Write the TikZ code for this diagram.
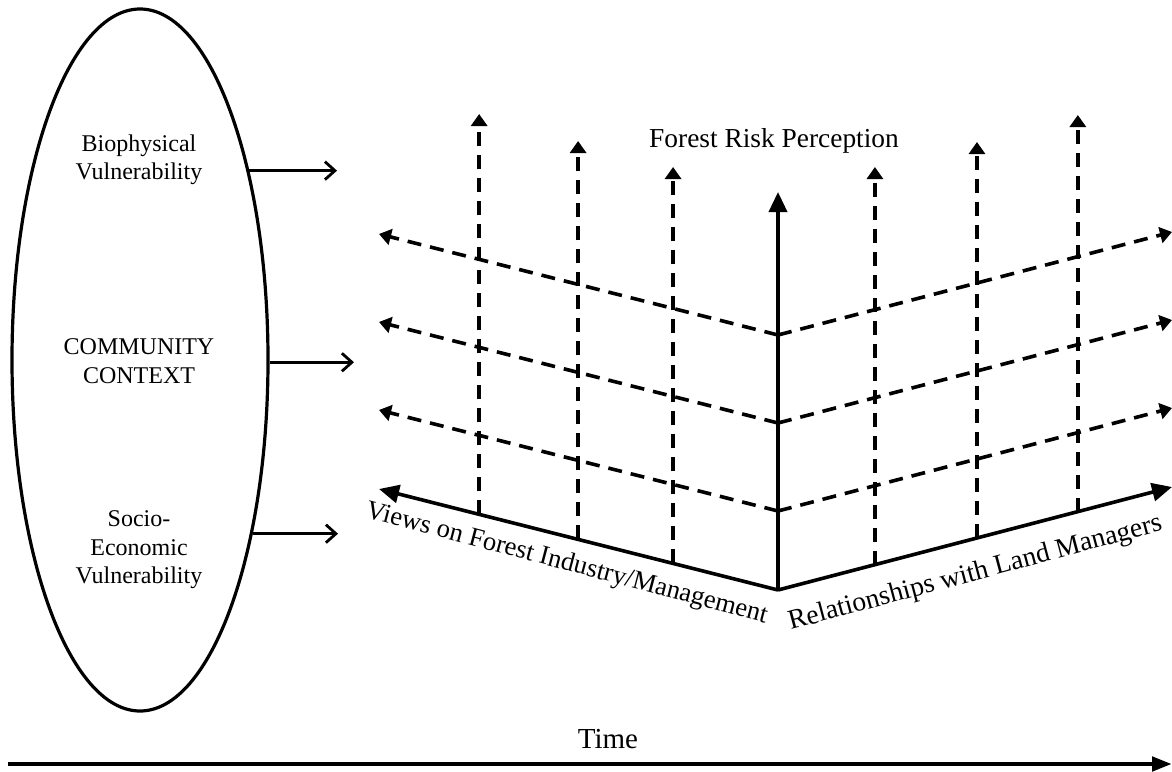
\documentclass[tikz,border=0pt]{standalone}
\usepackage{fontspec}
\setmainfont{Liberation Serif}
\usetikzlibrary{arrows.meta,calc,shapes.geometric}
\tikzset{
  axisline/.style={line width=1.8pt,-{Triangle[length=10pt,width=9pt]}},
  dline/.style={line width=1.8pt,dash pattern=on 7pt off 4.5pt,-{Triangle[length=6pt,width=8pt]}},
  earrow/.style={line width=1.4pt,-{Straight Barb[length=5pt,width=9pt,line width=1.4pt]}},
  elltext/.style={align=center,font=\fontsize{12}{14.2}\selectfont,inner sep=0pt},
  lbl/.style={inner sep=0pt,anchor=base}
}
\begin{document}
\begin{tikzpicture}[x=0.5pt,y=-0.5pt]
\useasboundingbox (0,0) rectangle (1172,771);
% ellipse
\node[draw,ellipse,line width=1.6pt,minimum width=128pt,minimum height=351pt,inner sep=0pt] (ell) at (140,360) {};
\node[elltext] (bio) at (139,160) {Biophysical\\Vulnerability};
\node[elltext] (comm) at (139,361) {COMMUNITY\\CONTEXT};
\node[elltext] (socio) at (139,550) {Socio-\\Economic\\Vulnerability};
% arrows from ellipse
\coordinate (e1) at (337,172);
\coordinate (e2) at (354,363);
\coordinate (e3) at (338,536);
\draw[earrow] (ell.60.1) -- (ell.60.1 -| e1);
\draw[earrow] (ell.-1.3) -- (ell.-1.3 -| e2);
\draw[earrow] (ell.-57.8) -- (ell.-57.8 -| e3);
% axes
\coordinate (O) at (778,590);
\coordinate (L) at (379,489);
\coordinate (R) at (1172,487);
\coordinate (U) at (778,192);
% dashed diagonals
\coordinate (a1) at (778,335);
\coordinate (a2) at (778,423);
\coordinate (a3) at (778,511);
\foreach \i in {1,2,3}{
  \coordinate (l\i) at ($(a\i)+(L)-(O)$);
  \coordinate (r\i) at ($(a\i)+(R)-(O)$);
  \draw[dline] (a\i) -- (l\i);
  \draw[dline] (a\i) -- (r\i);
}
% dashed verticals
\coordinate (hl1) at (0,114);
\coordinate (hl2) at (0,141);
\coordinate (hl3) at (0,167);
\coordinate (hr1) at (0,167);
\coordinate (hr2) at (0,142);
\coordinate (hr3) at (0,115);
\coordinate (bl1) at ($(O)!0.749!(L)$);
\coordinate (bl2) at ($(O)!0.501!(L)$);
\coordinate (bl3) at ($(O)!0.263!(L)$);
\coordinate (br1) at ($(O)!0.246!(R)$);
\coordinate (br2) at ($(O)!0.505!(R)$);
\coordinate (br3) at ($(O)!0.761!(R)$);
\foreach \i in {1,2,3}{
  \draw[dline] (bl\i) -- (bl\i |- hl\i);
  \draw[dline] (br\i) -- (br\i |- hr\i);
}
\draw[axisline] (O) -- (U);
\draw[axisline] (O) -- (L);
\draw[axisline] (O) -- (R);
% labels
\node[lbl,font=\fontsize{13.7}{16}\selectfont] (frp) at (774,147) {Forest Risk Perception};
\node[lbl,font=\fontsize{13.3}{16}\selectfont,rotate=-14.8] (views) at (565,570) {Views on Forest Industry/Management};
\node[lbl,font=\fontsize{13.8}{16}\selectfont,rotate=15] (rel) at (977,580) {Relationships with Land Managers};
% time
\coordinate (t0) at (8,764);
\coordinate (t1) at (1172,764);
\draw[line width=2.3pt,-{Triangle[length=10pt,width=7pt]}] (t0) -- (t1);
\node[lbl,font=\fontsize{14.5}{17}\selectfont] (time) at (608,748) {Time};
\end{tikzpicture}
\end{document}
